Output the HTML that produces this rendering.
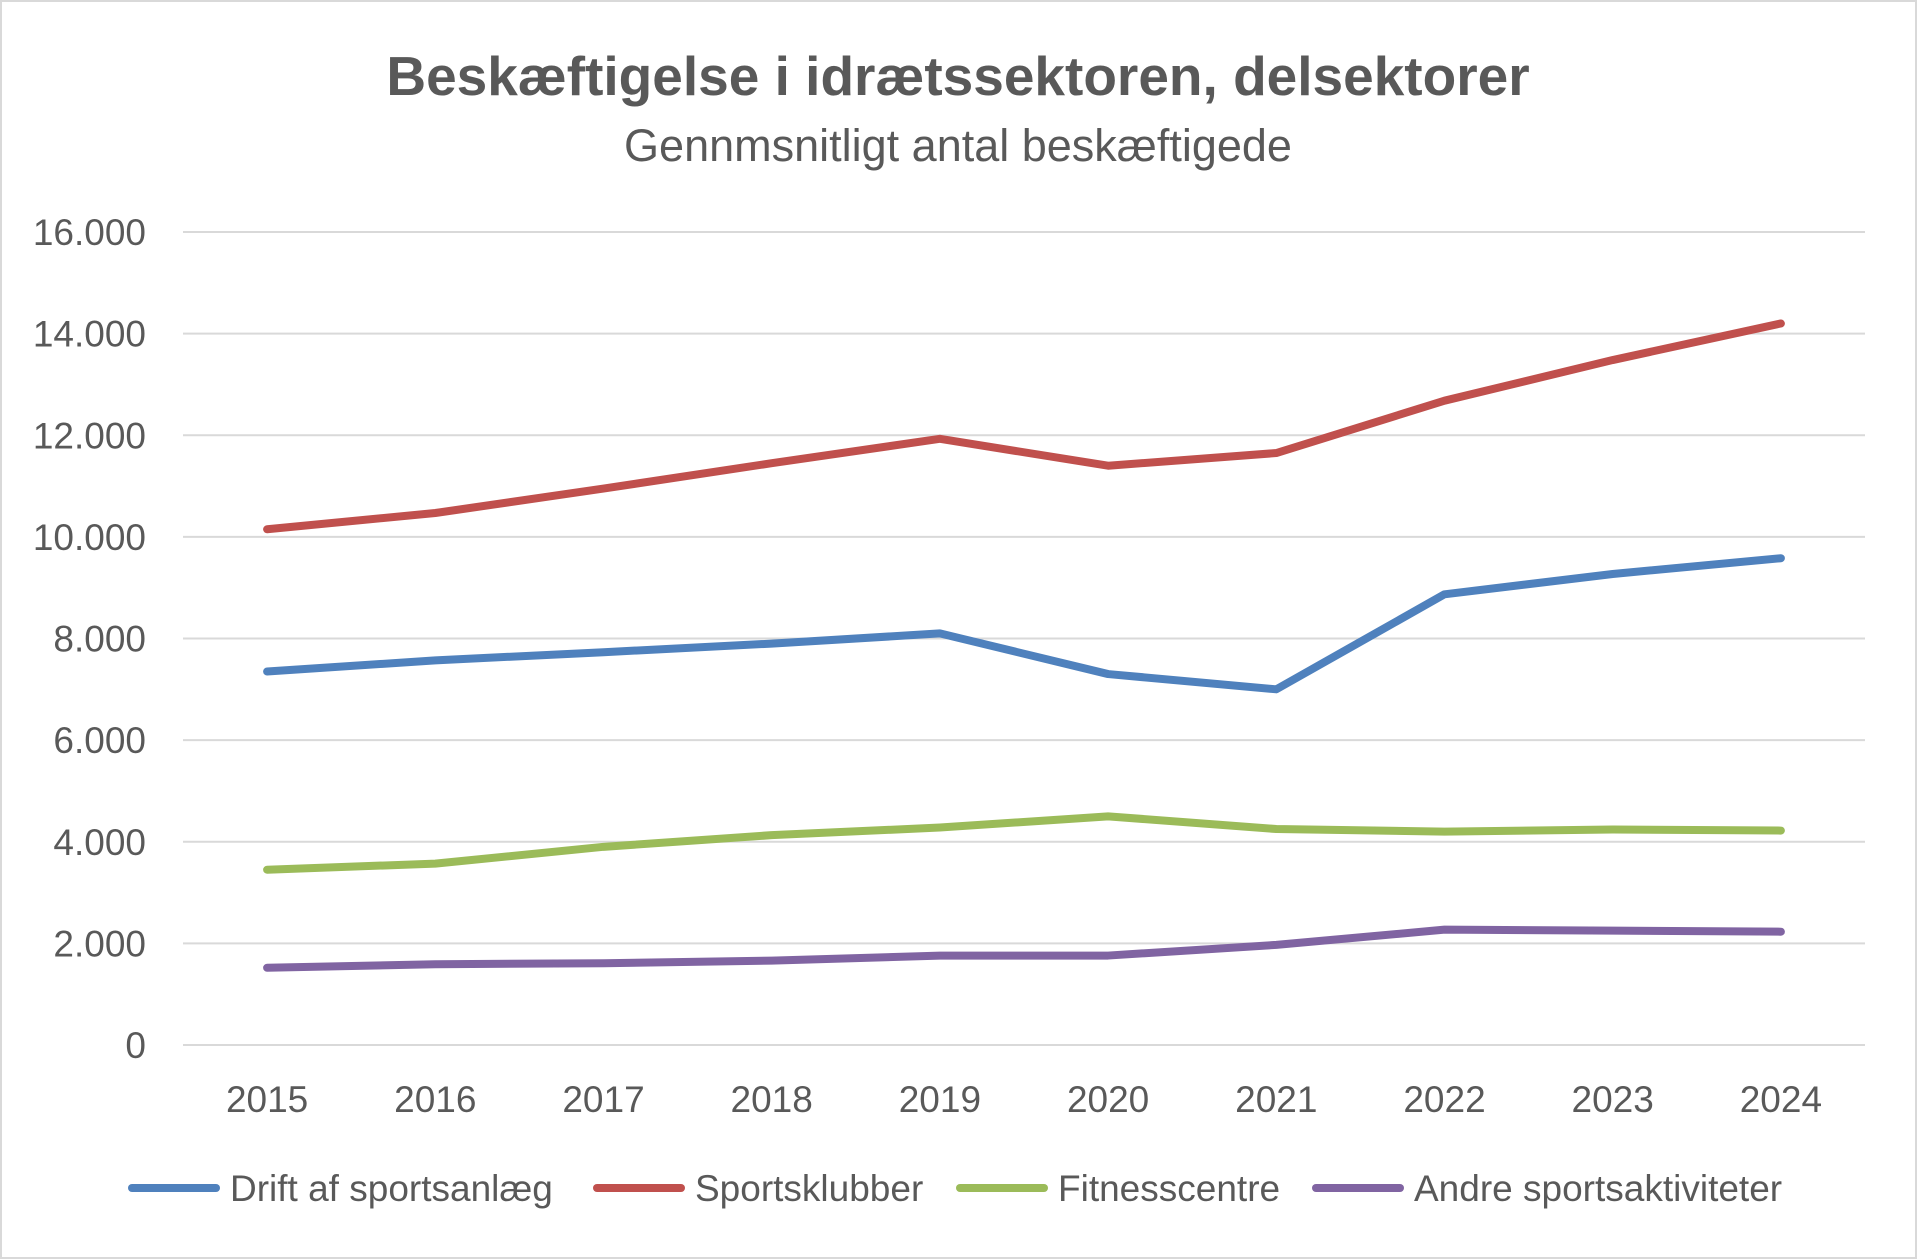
<!DOCTYPE html>
<html><head><meta charset="utf-8"><style>
body{margin:0;background:#fff}
svg{display:block;font-family:"Liberation Sans",sans-serif}
</style></head><body>
<svg id="chart" width="1917" height="1259" viewBox="0 0 1917 1259">
<rect x="1" y="1" width="1915" height="1257" fill="#fff" stroke="#d9d9d9" stroke-width="2"/>
<text x="958" y="95" text-anchor="middle" font-size="55" font-weight="bold" fill="#595959">Beskæftigelse i idrætssektoren, delsektorer</text>
<text x="958" y="161" text-anchor="middle" font-size="45" fill="#595959">Gennmsnitligt antal beskæftigede</text>
<g id="grid"></g><g id="series"></g><g id="legend"></g>
</svg>
<script>
const years=["2015","2016","2017","2018","2019","2020","2021","2022","2023","2024"];
const yTicks=[0,2000,4000,6000,8000,10000,12000,14000,16000];
const seriesNames=["Drift af sportsanlæg","Sportsklubber","Fitnesscentre","Andre sportsaktiviteter"];
const seriesColors=["#4f81bd","#c0504d","#9bbb59","#8064a2"];
const drift=[7350,7570,7730,7900,8100,7300,7000,8870,9270,9580];
const klubber=[10150,10470,10950,11450,11930,11400,11650,12680,13480,14200];
const fitness=[3450,3570,3900,4130,4280,4500,4250,4200,4240,4220];
const andre=[1520,1590,1610,1660,1760,1760,1970,2270,2250,2230];
const allSeries=[drift,klubber,fitness,andre];
const NS="http://www.w3.org/2000/svg";
const y0=1045,y1=232,x0=183,x1=1865;
const yS=v=>y0-(v/16000)*(y0-y1);
const xS=i=>x0+(i+0.5)*(x1-x0)/years.length;
const g=document.getElementById('grid');
const fmt=v=>v.toString().replace(/\B(?=(\d{3})+(?!\d))/g,'.');
yTicks.forEach(t=>{
 const l=document.createElementNS(NS,'line');
 l.setAttribute('x1',x0);l.setAttribute('x2',x1);l.setAttribute('y1',yS(t));l.setAttribute('y2',yS(t));
 l.setAttribute('stroke','#d9d9d9');l.setAttribute('stroke-width','2');
 
 
 g.appendChild(l);
 const tx=document.createElementNS(NS,'text');
 tx.setAttribute('x',146);tx.setAttribute('y',yS(t)+13);tx.setAttribute('text-anchor','end');
 tx.setAttribute('font-size','37');tx.setAttribute('fill','#595959');tx.textContent=fmt(t);
 
 
 g.appendChild(tx);
});
years.forEach((yr,i)=>{
 const tx=document.createElementNS(NS,'text');
 tx.setAttribute('x',xS(i));tx.setAttribute('y',1112);tx.setAttribute('text-anchor','middle');
 tx.setAttribute('font-size','37');tx.setAttribute('fill','#595959');tx.textContent=yr;
 
 
 g.appendChild(tx);
});
const s=document.getElementById('series');
allSeries.forEach((d,k)=>{
 const p=document.createElementNS(NS,'polyline');
 p.setAttribute('points',d.map((v,i)=>xS(i)+','+yS(v)).join(' '));
 p.setAttribute('fill','none');p.setAttribute('stroke',seriesColors[k]);p.setAttribute('stroke-width','8');
 p.setAttribute('stroke-linejoin','round');p.setAttribute('stroke-linecap','round');
 
 
 s.appendChild(p);
});
const lg=document.getElementById('legend');
const lx=[128,593,956,1312];
seriesNames.forEach((n,k)=>{
 const l=document.createElementNS(NS,'line');
 l.setAttribute('x1',lx[k]+4);l.setAttribute('x2',lx[k]+88);l.setAttribute('y1',1188);l.setAttribute('y2',1188);
 l.setAttribute('stroke',seriesColors[k]);l.setAttribute('stroke-width','8');l.setAttribute('stroke-linecap','round');
 
 
 lg.appendChild(l);
 const tx=document.createElementNS(NS,'text');
 tx.setAttribute('x',lx[k]+102);tx.setAttribute('y',1201);tx.setAttribute('font-size','37');tx.setAttribute('fill','#595959');
 tx.textContent=n;
 
 
 lg.appendChild(tx);
});
</script>
</body></html>
